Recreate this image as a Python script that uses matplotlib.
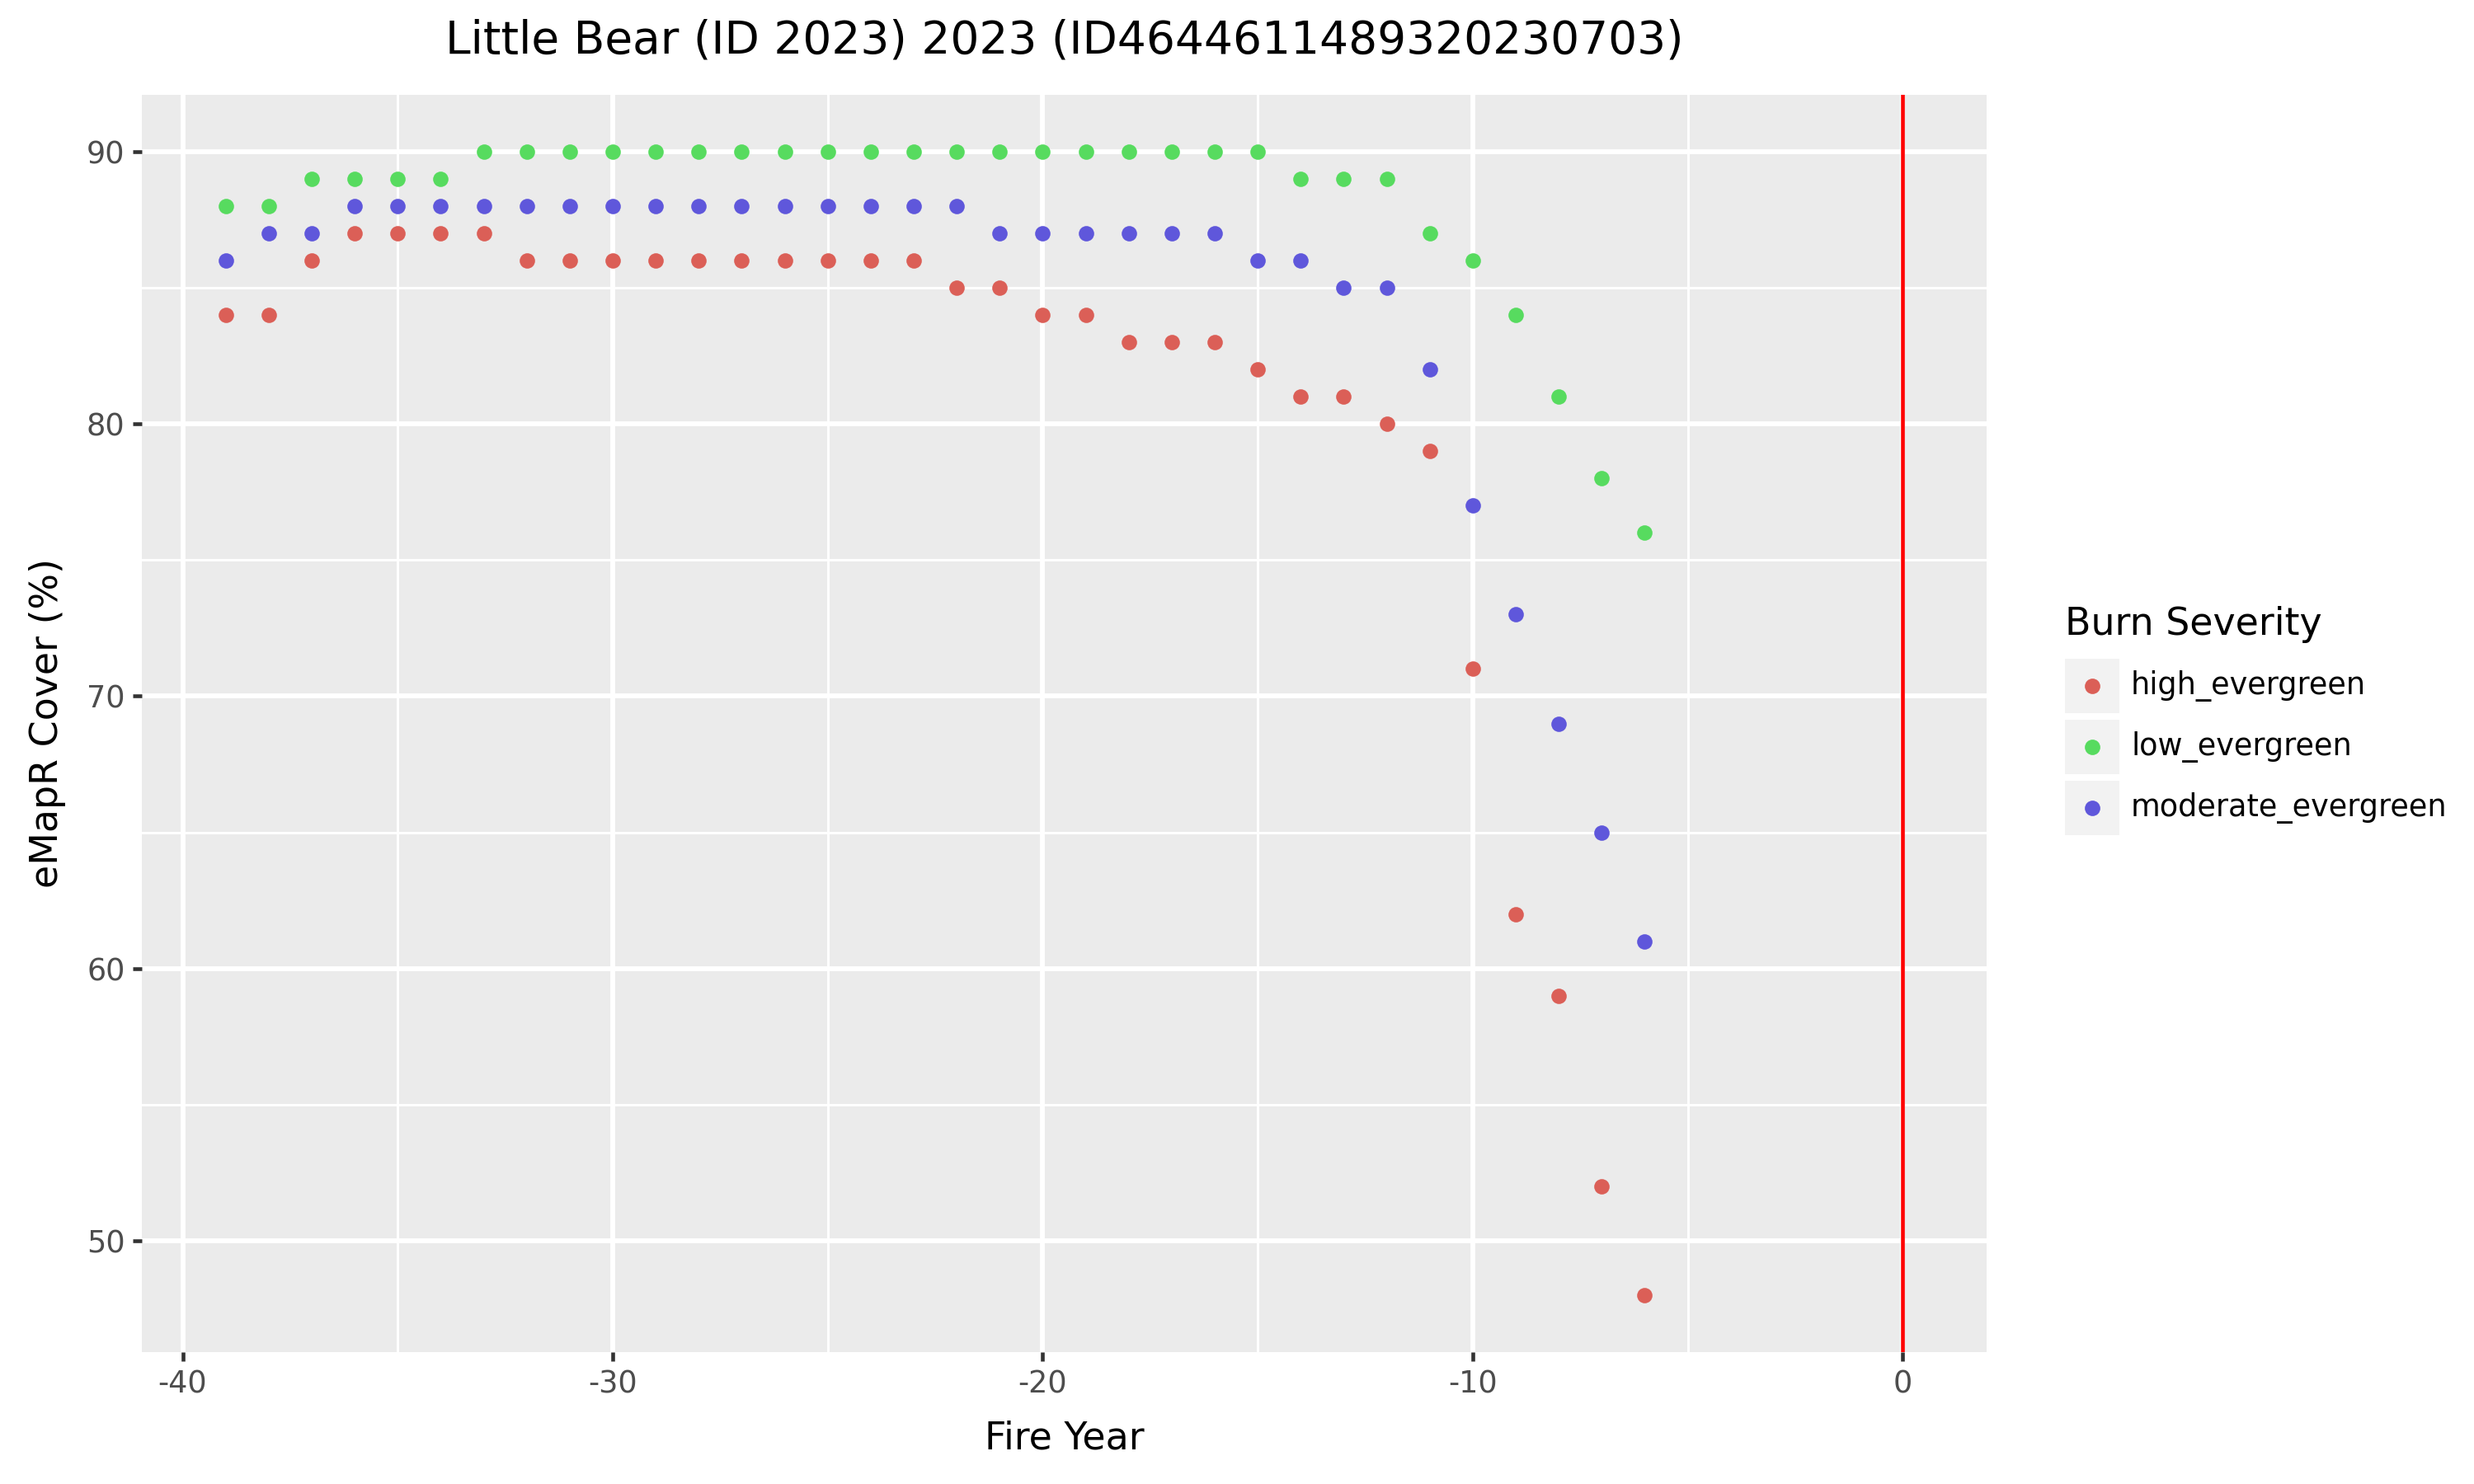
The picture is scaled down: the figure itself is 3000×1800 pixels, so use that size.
import colorsys
import numpy as np
import matplotlib
matplotlib.use("Agg")
import matplotlib.pyplot as plt
from matplotlib.patches import Rectangle

# Data
years = np.arange(-39, -5)
high_evergreen = [84, 84, 86, 87, 87, 87, 87, 86, 86, 86, 86, 86, 86, 86, 86, 86, 86,
                  85, 85, 84, 84, 83, 83, 83, 82, 81, 81, 80, 79, 71, 62, 59, 52, 48]
low_evergreen = [88, 88, 89, 89, 89, 89, 90, 90, 90, 90, 90, 90, 90, 90, 90, 90, 90,
                 90, 90, 90, 90, 90, 90, 90, 90, 89, 89, 89, 87, 86, 84, 81, 78, 76]
moderate_evergreen = [86, 87, 87, 88, 88, 88, 88, 88, 88, 88, 88, 88, 88, 88, 88, 88, 88,
                      88, 87, 87, 87, 87, 87, 87, 86, 86, 85, 85, 82, 77, 73, 69, 65, 61]
series_names = ["high_evergreen", "low_evergreen", "moderate_evergreen"]
fire_year = 0

# plotnine-style hue palette
colors = [colorsys.hls_to_rgb((0.01 + i / 3) % 1, 0.6, 0.65) for i in range(3)]

plt.rcParams['font.family'] = 'DejaVu Sans'
plt.rcParams['axes.unicode_minus'] = False

fig = plt.figure(figsize=(10, 6), dpi=300)
ax = fig.add_axes([172 / 3000, 1 - 1640 / 1800, (2409 - 172) / 3000, (1640 - 115) / 1800])
ax.set_facecolor('#EBEBEB')
for s in ax.spines.values():
    s.set_visible(False)

ax.set_xlim(-40.95, 1.95)
ax.set_ylim(45.9, 92.1)
ax.set_xticks([-40, -30, -20, -10, 0])
ax.set_yticks([50, 60, 70, 80, 90])
ax.set_xticks([-35, -25, -15, -5], minor=True)
ax.set_yticks([55, 65, 75, 85], minor=True)
ax.grid(which='major', color='white', linewidth=1.4)
ax.grid(which='minor', color='white', linewidth=0.7)
ax.set_axisbelow(True)
ax.tick_params(which='major', length=2.75, width=1.1, color='#333333',
               labelsize=8.8, labelcolor='#4D4D4D', pad=2.2)
ax.tick_params(which='minor', length=0)

all_vals = [high_evergreen, low_evergreen, moderate_evergreen]
for name, vals, c in zip(series_names, all_vals, colors):
    ax.scatter(years, vals, s=20, color=c, linewidths=0, zorder=3, label=name)

ax.axvline(fire_year, color='red', linewidth=1.1, zorder=4)

ax.set_xlabel('Fire Year', fontsize=11, labelpad=6)
ax.set_ylabel('eMapR Cover (%)', fontsize=11, labelpad=6)
ax.set_title('Little Bear (ID 2023) 2023 (ID46446114893202307' + '03)',
             fontsize=13.2, pad=12)

# legend drawn by hand, ggplot style
fig.text(2504 / 3000, 1 - 758 / 1800, 'Burn Severity', fontsize=11, va='center', ha='left')
for i, (name, c) in enumerate(zip(series_names, colors)):
    yc = 832 + 74 * i
    fig.add_artist(Rectangle((2504 / 3000, 1 - (yc + 33) / 1800), 66 / 3000, 66 / 1800,
                             transform=fig.transFigure, facecolor='#F2F2F2', edgecolor='none'))
    fig.add_artist(plt.Line2D([2537 / 3000], [1 - yc / 1800], marker='o', markersize=4.5,
                              color=c, markeredgewidth=0, transform=fig.transFigure))
    fig.text(2584 / 3000, 1 - yc / 1800, name, fontsize=8.8, va='center', ha='left')

fig.savefig('out.png', dpi=300)
